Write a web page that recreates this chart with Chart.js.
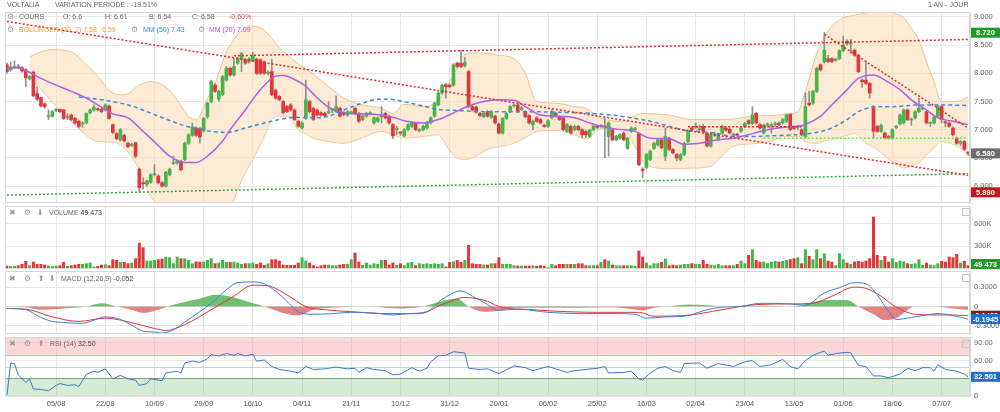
<!DOCTYPE html>
<html>
<head>
<meta charset="utf-8">
<script src="https://cdn.jsdelivr.net/npm/chart.js@4/dist/chart.umd.min.js"></script>
<style>
  body { margin: 0; width: 1000px; height: 412px; overflow: hidden; background: #fff;
         font-family: "Liberation Sans", Arial, sans-serif; }
  canvas { position: absolute; left: 0; }
  .t { position: absolute; font-size: 7px; line-height: 8px; color: #666; white-space: nowrap; }
  .ic { position: absolute; font-family: "DejaVu Sans", sans-serif; font-size: 8px; line-height: 8px; color: #9a9a9a; }
  .box { position: absolute; width: 6px; height: 6px; border: 1px solid #c8c8c8; left: 962px; }
</style>
</head>
<body>
<canvas id="cPrice" width="1000" height="205" style="top:0"></canvas>
<canvas id="cVol" width="1000" height="65" style="top:205px"></canvas>
<canvas id="cMacd" width="1000" height="65" style="top:270px"></canvas>
<canvas id="cRsi" width="1000" height="77" style="top:335px"></canvas>

<!-- headers / legends -->
<div class="t" style="left:7px;top:1px">VOLTALIA</div>
<div class="t" style="left:55px;top:1px">VARIATION PERIODE : -19.51%</div>
<div class="t" style="left:928px;top:1px">1 AN - JOUR</div>

<div class="ic" style="left:7px;top:13px">⚙</div>
<div class="t" style="left:19px;top:13px">COURS</div>
<div class="t" style="left:63px;top:13px">O: 6.6</div>
<div class="t" style="left:105px;top:13px">H: 6.61</div>
<div class="t" style="left:149px;top:13px">B: 6.54</div>
<div class="t" style="left:192px;top:13px">C: 6.58</div>
<div class="t" style="left:229px;top:13px;color:#e0474c">-0.60%</div>

<div class="ic" style="left:7px;top:26px">⚙</div>
<div class="t" style="left:19px;top:26px;color:#e6a038">BOLLINGER (20, 2) 7.58</div>
<div class="t" style="left:102px;top:26px;color:#e6a038">6.59</div>
<div class="ic" style="left:131px;top:26px">⚙</div>
<div class="t" style="left:143px;top:26px;color:#3b8bd8">MM (50) 7.43</div>
<div class="ic" style="left:198px;top:26px">⚙</div>
<div class="t" style="left:209px;top:26px;color:#a957dd">MM (20) 7.09</div>

<div class="ic" style="left:9px;top:209px">✖</div>
<div class="ic" style="left:24px;top:209px">⚙</div>
<div class="ic" style="left:37px;top:209px">⬇</div>
<div class="t" style="left:49px;top:209px">VOLUME <span style="color:#444">49 473</span></div>
<div class="box" style="top:208px"></div>

<div class="ic" style="left:9px;top:275px">✖</div>
<div class="ic" style="left:24px;top:275px">⚙</div>
<div class="ic" style="left:38px;top:275px">⬆</div>
<div class="ic" style="left:49px;top:275px">⬇</div>
<div class="t" style="left:61px;top:275px">MACD (12,26,9) <span style="color:#444">-0.052</span></div>
<div class="box" style="top:274px"></div>

<div class="ic" style="left:9px;top:340px">✖</div>
<div class="ic" style="left:24px;top:340px">⚙</div>
<div class="ic" style="left:38px;top:340px">⬆</div>
<div class="t" style="left:50px;top:340px">RSI (14) <span style="color:#444">32.50</span></div>
<div class="box" style="top:340px"></div>

<script>
// ---- data (one bar per trading day) ----
const N = 255;
const tickLabels = ['05/08','22/08','10/09','29/09','16/10','04/11','21/11','10/12','31/12','20/01',
                    '06/02','25/02','16/03','02/04','23/04','13/05','01/06','18/06','07/07'];
const tickEvery = 13;

const opens = [
  8.15,8.06,8.1,8.11,8.1,8.06,7.9,8.02,7.64,7.57, 7.46,7.23,7.24,7.34,7.36,7.35,7.22,7.26,7.2,7.15,
  7.1,7.12,7.3,7.35,7.37,7.36,7.35,7.42,7.09,6.93, 6.82,6.9,6.76,6.72,6.77,6.3,6.06,6.03,6.07,6.2,
  6.18,6.06,6.0,6.2,6.4,6.41,6.44,6.47,6.76,6.9, 7.03,7.02,6.98,7.23,7.5,7.79,7.54,7.62,7.88,8.09,
  7.97,8.18,8.24,8.24,8.2,8.22,8.25,8.24,8.2,8.0, 8.03,7.7,7.59,7.5,7.41,7.44,7.35,7.15,7.03,7.2,
  7.5,7.38,7.35,7.3,7.29,7.3,7.34,7.32,7.38,7.3, 7.26,7.3,7.38,7.29,7.18,7.24,7.28,7.12,7.15,7.23,
  7.29,7.24,7.09,7.0,6.95,6.89,7.0,7.06,7.11,6.98, 7.0,7.03,7.12,7.24,7.44,7.65,7.8,7.79,7.79,8.18,
  8.18,8.13,8.03,7.41,7.4,7.29,7.23,7.32,7.22,7.24, 7.1,6.94,7.2,7.32,7.42,7.44,7.36,7.32,7.25,7.09,
  7.21,7.18,7.08,7.06,7.21,7.29,7.22,7.21,6.97,7.06, 7.0,7.06,7.0,6.97,6.88,7.0,7.06,7.06,7.06,6.88,
  7.0,6.82,6.85,6.94,6.67,6.97,7.0,6.93,6.3,6.33, 6.47,6.67,6.73,6.82,6.53,6.85,6.65,6.56,6.47,6.56,
  6.79,7.03,7.04,7.0,7.06,6.94,6.71,6.9,6.82,6.94, 7.03,7.01,6.9,6.92,6.97,7.05,7.16,7.11,7.29,7.09,
  6.94,7.08,7.07,7.09,7.12,7.12,7.15,7.27,7.05,7.04, 7.0,6.88,7.47,7.47,7.68,8.15,8.2,8.26,8.26,8.23,
  8.26,8.4,8.57,8.52,8.41,8.32,7.88,7.88,7.82,7.41, 7.06,6.97,6.94,6.88,6.85,7.04,7.1,7.12,7.35,7.17,
  7.21,7.32,7.37,7.32,7.11,7.12,7.24,7.41,7.14,7.12, 7.03,6.85,6.76,6.79,6.6
];
const highs = [
  8.18,8.2,8.22,8.16,8.12,8.08,7.96,8.04,7.76,7.58, 7.48,7.35,7.34,7.38,7.37,7.36,7.28,7.28,7.22,7.17,
  7.14,7.3,7.37,7.44,7.39,7.38,7.46,7.44,7.1,6.95, 7.02,6.92,6.78,6.76,6.78,6.32,6.15,6.1,6.22,6.38,
  6.2,6.08,6.26,6.32,6.53,6.46,6.46,6.78,6.93,7.12, 7.05,7.04,7.22,7.49,7.88,7.82,7.7,7.96,8.12,8.11,
  8.26,8.28,8.37,8.26,8.28,8.37,8.27,8.26,8.22,8.05, 8.25,7.72,7.61,7.52,7.43,7.46,7.37,7.17,7.14,7.88,
  7.52,7.4,7.37,7.32,7.31,7.5,7.38,7.6,7.4,7.32, 7.34,7.33,7.4,7.31,7.26,7.31,7.32,7.23,7.23,7.41,
  7.31,7.26,7.11,7.06,6.97,7.02,7.11,7.14,7.13,7.02, 7.08,7.15,7.23,7.49,7.67,7.81,7.82,7.81,8.17,8.2,
  8.41,8.28,8.05,7.43,7.42,7.31,7.31,7.34,7.34,7.26, 7.12,7.22,7.31,7.43,7.46,7.46,7.41,7.34,7.27,7.17,
  7.23,7.2,7.1,7.18,7.36,7.31,7.24,7.23,7.11,7.08, 7.08,7.08,7.02,6.99,7.01,7.08,7.08,7.09,7.2,7.14,
  7.02,6.9,6.93,6.96,6.87,7.05,7.04,6.95,6.33,6.58, 6.64,6.78,6.84,6.84,7.03,6.87,6.67,6.58,6.58,6.78,
  6.99,7.05,7.12,7.08,7.1,6.96,6.93,6.96,6.93,7.08, 7.05,7.03,6.94,6.94,7.05,7.13,7.18,7.41,7.31,7.11,
  7.1,7.12,7.12,7.14,7.14,7.2,7.28,7.29,7.07,7.08, 7.02,7.65,7.68,7.7,8.11,8.17,8.72,8.32,8.28,8.27,
  8.42,8.66,8.6,8.6,8.43,8.34,7.9,8.21,7.84,7.43, 7.08,7.1,6.96,6.9,7.02,7.08,7.28,7.37,7.37,7.21,
  7.34,7.56,7.4,7.34,7.14,7.24,7.43,7.43,7.16,7.14, 7.05,6.87,6.81,6.81,6.61
];
const lows = [
  8.0,8.04,8.08,8.08,8.02,7.76,7.88,7.58,7.52,7.4, 7.38,7.18,7.22,7.32,7.3,7.18,7.18,7.16,7.1,7.03,
  7.04,7.1,7.28,7.33,7.33,7.3,7.33,7.18,6.93,6.82, 6.8,6.78,6.68,6.7,6.5,5.89,5.95,6.0,6.05,6.18,
  6.04,5.98,5.98,6.18,6.38,6.39,6.27,6.45,6.74,6.88, 6.88,6.76,6.96,7.2,7.48,7.66,7.5,7.6,7.86,7.95,
  7.95,8.16,8.03,8.16,8.18,8.2,7.98,7.98,7.98,7.97, 7.6,7.54,7.51,7.28,7.3,7.33,7.16,7.04,7.01,7.18,
  7.3,7.16,7.24,7.24,7.23,7.28,7.3,7.3,7.22,7.25, 7.24,7.28,7.27,7.13,7.16,7.22,7.26,7.1,7.13,7.12,
  7.19,7.1,6.84,6.91,6.9,6.87,6.98,7.04,6.98,6.96, 6.98,7.01,7.1,7.22,7.42,7.63,7.56,7.74,7.77,8.1,
  8.1,8.11,7.39,7.33,7.29,7.23,7.21,7.22,7.2,7.1, 6.92,6.92,7.18,7.3,7.4,7.3,7.34,7.21,7.1,7.0,
  7.13,7.1,7.04,7.04,7.19,7.22,7.16,6.98,6.95,6.92, 6.98,6.98,6.86,6.86,6.86,6.98,7.02,7.04,6.5,6.53,
  6.8,6.8,6.83,6.8,6.65,6.95,6.98,6.36,6.15,6.31, 6.45,6.65,6.71,6.66,6.45,6.63,6.57,6.45,6.45,6.54,
  6.77,6.98,7.02,6.98,6.95,6.69,6.69,6.88,6.8,6.92, 6.97,6.92,6.88,6.88,6.95,7.03,7.09,7.09,7.1,7.01,
  6.92,7.04,6.94,7.06,7.07,7.1,7.13,6.98,7.0,7.0, 6.89,6.86,7.42,7.45,7.66,8.04,8.18,8.19,8.19,8.21,
  8.24,8.38,8.5,8.35,8.3,8.01,7.75,7.8,7.56,6.85, 6.95,6.95,6.83,6.83,6.83,7.02,7.08,7.1,7.16,7.08,
  7.19,7.3,7.35,7.1,7.06,7.1,7.22,7.12,7.05,7.04, 6.89,6.74,6.72,6.63,6.54
];
const closes = [
  8.03,8.11,8.12,8.1,8.04,7.92,7.94,7.6,7.54,7.42, 7.41,7.25,7.32,7.36,7.32,7.2,7.23,7.18,7.12,7.06,
  7.12,7.29,7.35,7.4,7.35,7.32,7.44,7.2,6.95,6.84, 7.0,6.8,6.7,6.74,6.53,5.97,6.04,6.09,6.2,6.22,
  6.06,6.0,6.24,6.3,6.42,6.44,6.29,6.76,6.91,7.05, 6.9,6.87,7.2,7.47,7.85,7.68,7.68,7.94,8.09,7.97,
  8.12,8.26,8.35,8.18,8.26,8.31,8.0,8.0,8.0,8.02, 7.62,7.56,7.53,7.3,7.32,7.35,7.18,7.06,7.12,7.53,
  7.32,7.18,7.26,7.26,7.25,7.32,7.36,7.41,7.24,7.27, 7.32,7.31,7.29,7.15,7.24,7.29,7.3,7.21,7.21,7.25,
  7.21,7.12,6.89,7.02,6.94,7.0,7.09,7.12,7.0,7.0, 7.06,7.13,7.21,7.47,7.65,7.79,7.76,7.76,8.15,8.12,
  8.12,8.19,7.41,7.35,7.31,7.25,7.29,7.24,7.32,7.12, 6.94,7.2,7.29,7.41,7.43,7.32,7.39,7.23,7.12,7.15,
  7.15,7.12,7.06,7.16,7.32,7.24,7.18,7.0,7.09,6.94, 7.06,7.0,6.91,6.91,6.99,7.06,7.04,7.07,7.05,7.12,
  6.82,6.88,6.91,6.82,6.85,7.03,7.02,6.38,6.28,6.56, 6.62,6.76,6.82,6.68,6.88,6.65,6.59,6.5,6.56,6.76,
  6.97,7.0,7.06,7.02,6.97,6.71,6.91,6.92,6.91,7.06, 6.99,6.94,6.92,6.9,7.03,7.11,7.11,7.26,7.12,7.03,
  7.08,7.1,7.08,7.1,7.09,7.18,7.26,7.0,7.02,7.06, 6.91,7.41,7.44,7.68,8.09,8.06,8.41,8.21,8.21,8.25,
  8.4,8.5,8.53,8.54,8.32,8.03,7.85,7.82,7.65,6.97, 6.97,7.08,6.85,6.85,7.0,7.06,7.26,7.35,7.18,7.19,
  7.32,7.38,7.38,7.12,7.12,7.22,7.41,7.18,7.12,7.06, 6.91,6.76,6.79,6.65,6.58
];
// volume in thousands of shares
const volumeK = [
  44,40,40,48,66,106,48,97,66,66, 57,44,40,44,48,92,40,48,57,66,
  66,75,84,31,40,57,62,48,128,119, 92,92,75,84,141,348,286,110,110,119,
  128,136,163,154,75,163,141,141,119,75, 97,97,97,119,141,75,84,119,92,92,
  97,84,66,75,75,84,66,84,53,75, 128,128,110,57,53,53,53,84,154,110,
  84,48,31,48,57,57,48,48,57,66, 66,128,216,97,53,84,57,75,66,119,
  119,57,84,53,75,48,84,92,48,75, 66,75,66,75,66,75,31,92,101,119,
  92,119,317,75,66,66,57,57,75,75, 154,66,66,66,48,44,44,44,44,48,
  40,48,40,22,66,48,66,66,66,66, 66,75,75,48,48,48,48,92,128,110,
  57,48,48,48,48,48,40,242,163,84, 48,75,75,92,136,48,57,48,57,66,
  66,75,66,66,119,66,57,48,66,48, 48,48,48,66,110,75,185,260,119,97,
  97,75,97,106,97,106,119,128,141,154, 75,260,172,128,260,141,207,110,97,48,
  207,128,84,66,97,106,97,110,141,691, 185,119,172,97,141,92,110,101,75,66,
  75,128,53,84,57,48,75,106,97,163, 154,198,84,106,49.473
];

// indicator curves, read at [bar, value]
const mm20Pts = [[0,8.1],[3,8.1],[5,8.05],[9,7.91],[13,7.79],[17,7.68],[21,7.56],[25,7.4],[28,7.28],[32,7.21],
  [36,6.97],[40,6.72],[43,6.53],[47,6.42],[50,6.42],[53,6.53],[57,6.8],[59,7.0],[63,7.35],[66,7.63],[69,7.85],
  [71,7.95],[73,7.96],[76,7.89],[79,7.77],[81,7.63],[85,7.4],[88,7.32],[92,7.28],[95,7.28],[99,7.26],[102,7.22],
  [105,7.16],[110,7.12],[114,7.18],[119,7.33],[122,7.42],[126,7.5],[130,7.53],[134,7.52],[137,7.41],[141,7.26],
  [145,7.24],[150,7.21],[154,7.12],[157,7.06],[161,7.01],[166,6.97],[170,6.85],[175,6.84],[179,6.74],[183,6.76],
  [188,6.82],[192,6.85],[197,6.93],[201,7.0],[205,7.04],[209,7.06],[211,7.09],[215,7.24],[218,7.44],[222,7.71],
  [225,7.91],[229,7.97],[232,7.88],[236,7.71],[239,7.53],[243,7.35],[246,7.21],[250,7.15],[254,7.09]];
const mm50Pts = [[19,7.58],[26,7.52],[33,7.42],[40,7.24],[47,7.07],[51,7.01],[54,6.97],[58,6.95],[63,7.03],
  [67,7.1],[72,7.18],[76,7.22],[80,7.21],[85,7.24],[89,7.35],[94,7.47],[98,7.54],[101,7.54],[106,7.48],[110,7.42],
  [114,7.36],[119,7.34],[127,7.32],[136,7.32],[145,7.31],[154,7.29],[161,7.25],[170,7.15],[175,7.06],[179,6.99],
  [183,6.97],[188,6.93],[192,6.88],[197,6.88],[201,6.89],[205,6.9],[213,6.94],[218,7.03],[222,7.18],[225,7.32],
  [229,7.4],[235,7.41],[241,7.44],[246,7.44],[254,7.43]];
const bandIdx = [6,9,12,17,21,24,28,31,35,38,41,44,48,50,53,55,58,60,62,64,66,68,70,72,74,77,79,81,85,89,94,99,
  102,105,110,114,117,119,121,124,127,130,134,137,140,145,150,153,157,163,166,168,171,175,181,186,188,192,197,
  202,205,209,211,214,216,220,224,227,230,233,235,237,239,241,243,245,247,251,254];
const bandUpper = [8.29,8.38,8.42,8.38,8.15,7.95,7.65,7.62,7.79,7.85,7.8,7.62,7.24,7.18,7.55,7.82,8.38,8.6,8.76,
  8.84,8.83,8.76,8.62,8.45,8.33,8.17,8.08,7.98,7.77,7.56,7.44,7.38,7.29,7.45,7.41,7.52,7.85,8.1,8.33,8.36,8.35,
  8.32,8.26,8.0,7.5,7.47,7.41,7.38,7.2,7.15,7.25,7.29,7.28,7.26,7.18,7.18,7.18,7.19,7.24,7.25,7.27,7.32,7.68,
  8.35,8.65,8.95,9.03,9.07,9.09,9.09,9.05,8.98,8.8,8.59,8.2,7.85,7.5,7.5,7.58];
const bandLower = [7.94,7.72,7.48,7.15,6.9,6.79,6.78,6.68,6.29,5.82,5.6,5.45,5.5,5.55,5.45,5.35,5.45,5.76,6.1,
  6.35,6.6,6.88,7.18,7.24,7.24,7.0,6.92,6.85,6.79,6.76,6.86,6.97,6.91,6.85,6.88,6.91,6.63,6.5,6.47,6.53,6.65,
  6.7,6.76,6.86,6.97,6.99,6.91,6.83,7.02,7.0,6.7,6.45,6.33,6.31,6.32,6.35,6.47,6.71,6.75,6.8,6.88,6.88,6.79,
  6.76,6.8,6.86,6.93,6.76,6.65,6.48,6.4,6.32,6.36,6.41,6.55,6.68,6.79,6.71,6.59];

// drawn trend lines [bar, price]
const trendDown = [[0,8.92],[254,6.19]];
const trendTop = [[60,8.31],[254,8.6]];
const trendPeak = [[216,8.69],[254,7.03]];
const trendFlat = [[180,7.05],[210,7.05]];
const supportLine = [[0,5.84],[254,6.22]];
const levelLine = [[200,6.85],[254,6.85]];

const macdPts = [[0,-0.03],[5,-0.05],[9,-0.17],[12,-0.23],[16,-0.25],[20,-0.26],[23,-0.21],[26,-0.16],[30,-0.2],
  [33,-0.29],[36,-0.38],[39,-0.395],[41,-0.41],[44,-0.36],[47,-0.24],[51,-0.08],[54,0.05],[58,0.26],[61,0.37],
  [65,0.38],[68,0.35],[71,0.24],[74,0.08],[77,-0.08],[81,-0.12],[86,-0.11],[91,-0.09],[97,-0.1],[102,-0.13],
  [106,-0.11],[111,-0.08],[115,0.11],[120,0.24],[123,0.16],[127,0.03],[130,-0.06],[135,-0.04],[143,-0.09],
  [152,-0.11],[161,-0.11],[166,-0.12],[169,-0.18],[174,-0.16],[179,-0.15],[185,-0.05],[189,-0.01],[194,0.0],
  [199,0.05],[207,0.04],[211,0.02],[216,0.21],[220,0.29],[224,0.37],[227,0.35],[230,0.18],[233,-0.08],[235,-0.2],
  [239,-0.17],[243,-0.13],[246,-0.11],[250,-0.14],[254,-0.1945]];
const signalPts = [[0,-0.03],[5,-0.04],[12,-0.16],[19,-0.23],[26,-0.18],[33,-0.25],[39,-0.34],[42,-0.37],[47,-0.28],
  [54,-0.05],[60,0.16],[65,0.33],[69,0.32],[74,0.18],[79,0.0],[84,-0.05],[91,-0.08],[100,-0.11],[109,-0.11],
  [115,0.03],[121,0.14],[127,0.08],[130,0.0],[139,-0.05],[148,-0.08],[156,-0.09],[167,-0.09],[171,-0.15],
  [179,-0.14],[189,-0.05],[198,0.03],[207,0.04],[213,0.05],[218,0.16],[224,0.3],[227,0.28],[231,0.16],[235,-0.01],
  [240,-0.12],[245,-0.13],[249,-0.13],[254,-0.142]];
const histPts = [[0,0],[5,-0.01],[9,-0.05],[15,-0.03],[21,0],[25,0.05],[29,0],[33,-0.05],[36,-0.1],[40,-0.05],
  [43,0.01],[47,0.07],[51,0.12],[55,0.18],[60,0.14],[65,0.05],[68,0],[73,-0.1],[77,-0.14],[81,-0.05],[86,-0.02],
  [95,0],[104,-0.03],[110,0],[116,0.1],[119,0.12],[122,0],[126,-0.08],[130,-0.07],[134,-0.02],[140,-0.02],
  [150,-0.02],[160,-0.01],[165,-0.04],[168,-0.06],[171,-0.02],[176,0.01],[180,0.03],[185,0.02],[190,0],[200,0.01],
  [206,0],[210,0.02],[214,0.08],[218,0.1],[222,0.1],[225,0],[229,-0.12],[232,-0.21],[235,-0.18],[240,0],[245,0],
  [250,-0.03],[254,-0.052]];

const rsiPts = [[0,0],[1,56],[2,55],[3,36],[5,23],[6,29],[7,12],[9,11],[11,9],[13,18],[14,21],[16,18],[18,19],
  [19,16],[21,37],[23,42],[24,40],[26,46],[28,29],[30,35],[32,29],[34,27],[35,18],[37,21],[38,29],[40,27],[41,26],
  [42,39],[45,42],[46,39],[47,56],[49,59],[51,57],[53,63],[54,70],[56,68],[58,72],[60,69],[61,72],[63,68],[65,71],
  [66,59],[68,61],[70,50],[72,45],[75,42],[77,39],[79,50],[81,45],[84,46],[87,49],[90,46],[92,47],[93,40],[95,48],
  [97,45],[100,43],[102,36],[104,37],[107,48],[109,42],[111,47],[112,58],[114,68],[116,69],[118,75],[121,73],
  [122,47],[125,45],[127,46],[130,38],[134,51],[137,48],[139,43],[143,50],[145,46],[148,40],[150,43],[153,45],
  [156,47],[158,50],[159,39],[163,40],[165,42],[167,29],[168,27],[170,39],[172,47],[174,50],[176,43],[178,40],
  [179,55],[183,56],[185,47],[188,55],[192,50],[195,58],[197,60],[199,50],[202,53],[205,62],[207,50],[209,46],
  [211,60],[213,69],[215,74],[216,76],[217,69],[219,72],[222,74],[223,73],[225,52],[227,50],[229,34],[231,34],
  [233,31],[236,37],[238,47],[240,43],[242,48],[244,48],[245,42],[246,53],[248,45],[251,42],[253,37],[254,32.5]];

const priceTicks = [6, 6.5, 7, 7.5, 8, 8.5, 9];
const volTicks = [300, 600];
const macdTicks = [-0.3, 0, 0.3];
const rsiTicks = [0, 30, 60, 90];
const rsiZones = { over: 70, under: 30, mid: 50 };

// ---- helpers ----
const GREEN = '#45b64a', RED = '#e3363b';
const FONT = '"Liberation Sans", Arial, sans-serif';
const categories = Array.from({ length: N }, (_, i) =>
  (i > 0 && i % tickEvery === 0 && tickLabels[i / tickEvery - 1]) ? tickLabels[i / tickEvery - 1] : '');
const spread = pts => { const a = new Array(N).fill(null); pts.forEach(([i, v]) => { a[i] = v; }); return a; };
const upDown = closes.map((c, i) => c >= opens[i] ? GREEN : RED);

const xScale = (showLabels) => ({
  offset: true,
  border: { display: false },
  grid: { offset: false, drawTicks: false,
          color: c => (c.index !== undefined && categories[c.index]) ? '#e6e6e6' : 'rgba(0,0,0,0)' },
  ticks: { display: showLabels, autoSkip: false, maxRotation: 0, padding: 3, color: '#555',
           font: { size: 7.5, family: FONT }, callback: (v, i) => categories[i] },
  afterFit: s => { s.paddingLeft = 0; s.paddingRight = 0; }
});
const yScale = (min, max, ticks, fmt) => ({
  position: 'right', min, max,
  afterBuildTicks: s => { s.ticks = ticks.map(v => ({ value: v })); },
  afterFit: s => { s.width = 30; s.paddingTop = 0; s.paddingBottom = 0; },
  border: { color: '#d8d8d8' },
  grid: { color: '#e6e6e6', drawTicks: false },
  ticks: { color: '#666', font: { size: 7.5, family: FONT }, padding: 4, callback: fmt }
});

const frame = { id: 'frame', afterDatasetsDraw(c) {
  const { ctx, chartArea: a } = c;
  ctx.save(); ctx.strokeStyle = '#d8d8d8'; ctx.lineWidth = 1;
  ctx.strokeRect(Math.round(a.left) + 0.5, Math.round(a.top) + 0.5, Math.round(a.width) - 1, Math.round(a.height) - 1);
  ctx.restore();
}};
// value tags in the right margin
const tags = items => ({ id: 'tags', afterDraw(c) {
  const { ctx, chartArea: a } = c; const y = c.scales.y;
  ctx.save();
  items.forEach(t => {
    let py = y.getPixelForValue(t.value);
    py = Math.max(a.top + 5, Math.min(a.bottom - 5, py));
    ctx.fillStyle = t.bg; ctx.fillRect(a.right + 1, py - 5, 29, 10);
    ctx.fillStyle = '#fff'; ctx.font = 'bold 7.5px ' + FONT;
    ctx.textAlign = 'center'; ctx.textBaseline = 'middle';
    ctx.fillText(t.text, a.right + 15.5, py + 0.5);
  });
  ctx.restore();
}});

const common = (padding) => ({
  responsive: false, animation: false, devicePixelRatio: 1,
  layout: { padding },
  plugins: { legend: { display: false }, tooltip: { enabled: false } }
});
const lineDs = (pts, color, width, extra) => Object.assign({
  type: 'line', data: spread(pts), borderColor: color, borderWidth: width, pointRadius: 0,
  spanGaps: true, fill: false
}, extra || {});

// ---- price panel ----
new Chart(document.getElementById('cPrice'), {
  type: 'bar',
  data: {
    labels: categories,
    datasets: [
      lineDs(trendDown, '#e8282b', 1.5, { borderDash: [2, 2], order: 1 }),
      lineDs(trendTop, '#e8282b', 1.5, { borderDash: [2, 2], order: 1 }),
      lineDs(trendPeak, '#e8282b', 1.5, { borderDash: [2, 2], order: 1 }),
      lineDs(trendFlat, '#e8282b', 1.5, { borderDash: [2, 2], order: 1 }),
      lineDs(supportLine, '#30a833', 1.5, { borderDash: [2, 2], order: 1 }),
      lineDs(levelLine, '#66e83c', 1.5, { borderDash: [2, 2], order: 1 }),
      lineDs(mm20Pts, '#b05fe4', 1.5, { cubicInterpolationMode: 'monotone', order: 2 }),
      lineDs(mm50Pts, '#3d8cd6', 1.5, { borderDash: [4, 3], cubicInterpolationMode: 'monotone', order: 2 }),
      { label: 'body', data: opens.map((o, i) => [o, closes[i]]), backgroundColor: upDown,
        barThickness: 3, minBarLength: 1, grouped: false, order: 4 },
      { label: 'wick', data: lows.map((l, i) => [l, highs[i]]), backgroundColor: '#8e8e8e',
        barThickness: 1, grouped: false, order: 5 },
      lineDs(bandIdx.map((b, k) => [b, bandUpper[k]]), '#f1c08c', 1,
        { fill: '+1', backgroundColor: 'rgba(252,218,180,0.55)', cubicInterpolationMode: 'monotone', order: 9 }),
      lineDs(bandIdx.map((b, k) => [b, bandLower[k]]), '#f1c08c', 1,
        { cubicInterpolationMode: 'monotone', order: 10 })
    ]
  },
  options: Object.assign(common({ left: 5, top: 12, bottom: 2 }), {
    scales: { x: xScale(false), y: yScale(5.70, 9.087, priceTicks, v => v.toFixed(3)) }
  }),
  plugins: [frame, tags([
    { value: 8.72, text: '8.720', bg: '#1f9a2a' },
    { value: 6.58, text: '6.580', bg: '#6b6b6b' },
    { value: 5.89, text: '5.890', bg: '#c8141b' }
  ])]
});

// ---- volume panel ----
new Chart(document.getElementById('cVol'), {
  type: 'bar',
  data: { labels: categories,
    datasets: [{ data: volumeK, backgroundColor: upDown, barPercentage: 0.8, categoryPercentage: 1 }] },
  options: Object.assign(common({ left: 5, top: 1, bottom: 1 }), {
    scales: { x: xScale(false), y: yScale(0, 832, volTicks, v => v + 'K') }
  }),
  plugins: [frame, tags([{ value: volumeK[N - 1], text: '49 473', bg: '#1f9a2a' }])]
});

// ---- MACD panel ----
new Chart(document.getElementById('cMacd'), {
  type: 'line',
  data: { labels: categories,
    datasets: [
      lineDs(macdPts, '#3b82d0', 1, { cubicInterpolationMode: 'monotone', order: 1 }),
      lineDs(signalPts, '#d9363b', 1, { cubicInterpolationMode: 'monotone', order: 2 }),
      lineDs(histPts, 'rgba(0,0,0,0)', 0, { cubicInterpolationMode: 'monotone', order: 5,
        fill: { target: 'origin', above: 'rgba(76,172,80,0.8)', below: 'rgba(220,90,90,0.75)' } })
    ] },
  options: Object.assign(common({ left: 5, top: 1, bottom: 1 }), {
    scales: { x: xScale(false), y: yScale(-0.425, 0.549, macdTicks, v => v === 0 ? '0' : v.toFixed(4)) }
  }),
  plugins: [frame, tags([
    { value: signalPts[signalPts.length - 1][1], text: '-0.1420', bg: '#8b1a1a' },
    { value: macdPts[macdPts.length - 1][1], text: '-0.1945', bg: '#1f6fcb' }
  ])]
});

// ---- RSI panel ----
const rsiBands = { id: 'rsiBands', beforeDatasetsDraw(c) {
  const { ctx, chartArea: a, scales: { y } } = c;
  const band = (from, to, fill) => {
    const y1 = y.getPixelForValue(to), y2 = y.getPixelForValue(from);
    ctx.fillStyle = fill; ctx.fillRect(a.left, y1, a.width, y2 - y1);
  };
  const hline = (v, color) => {
    const py = Math.round(y.getPixelForValue(v)) + 0.5;
    ctx.strokeStyle = color; ctx.beginPath(); ctx.moveTo(a.left, py); ctx.lineTo(a.right, py); ctx.stroke();
  };
  ctx.save(); ctx.lineWidth = 1;
  band(rsiZones.over, 100, 'rgba(244,140,140,0.35)');
  band(0, rsiZones.under, 'rgba(120,190,120,0.3)');
  hline(rsiZones.over, '#f2a5a5');
  hline(rsiZones.under, '#6fae6f');
  hline(rsiZones.mid, '#bcd2ee');
  ctx.restore();
}};
new Chart(document.getElementById('cRsi'), {
  type: 'line',
  data: { labels: categories,
    datasets: [lineDs(rsiPts, '#3b78c9', 1, { tension: 0 })] },
  options: Object.assign(common({ left: 5, top: 2, bottom: 1 }), {
    scales: { x: xScale(true), y: yScale(0, 100, rsiTicks, v => v === 0 ? '0' : v.toFixed(2)) }
  }),
  plugins: [rsiBands, frame, tags([{ value: 32.5, text: '32.501', bg: '#1f6fcb' }])]
});
</script>
</body>
</html>
